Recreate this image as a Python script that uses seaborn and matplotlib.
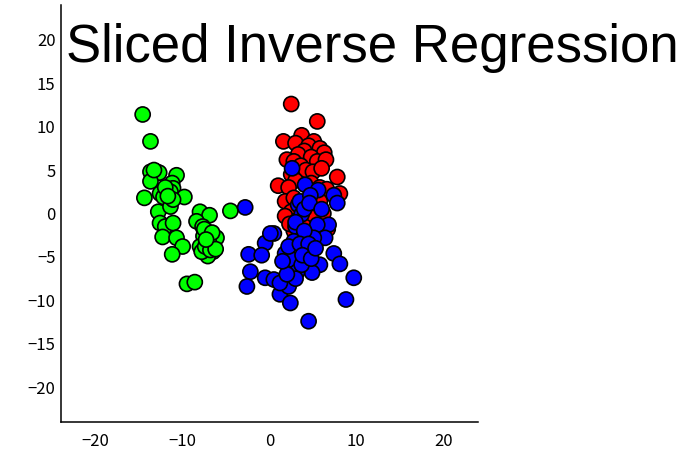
import numpy as np
import pandas as pd
import matplotlib
matplotlib.use("Agg")
import matplotlib.pyplot as plt
import seaborn as sns

# ---- data ----
green_x = [-14.6, -13.7, -13.7, -13.0, -12.7, -13.7, -10.7, -11.2, -11.1, -14.4,
           -12.6, -12.2, -11.4, -9.8, -12.8, -11.4, -11.1, -12.6, -12.0, -11.1,
           -12.3, -10.7, -10.0, -11.2, -9.5, -8.6, -8.0, -6.9, -8.4, -7.7,
           -7.2, -7.6, -6.1, -7.0, -8.0, -6.5, -7.1, -7.8, -4.5, -7.5,
           -6.6, -7.4, -6.8, -6.2, -7.3, -13.3, -12.0, -11.7]
green_y = [11.4, 8.3, 4.8, 4.8, 4.7, 3.7, 4.4, 3.5, 2.9, 1.8,
           2.3, 1.9, 2.5, 1.9, 0.2, 0.8, 1.6, -1.1, -1.5, -1.1,
           -2.7, -2.8, -3.8, -4.7, -8.1, -7.9, 0.2, -0.2, -0.9, -1.5,
           -2.1, -2.6, -2.8, -3.2, -3.8, -4.4, -4.9, -4.4, 0.3, -1.8,
           -2.2, -3.8, -4.2, -4.1, -3.0, 5.0, 3.0, 2.0]

red_x = [2.5, 5.5, 3.7, 1.6, 3.0, 5.1, 4.5, 5.8, 6.3, 4.0,
         3.3, 2.0, 2.8, 4.8, 5.5, 6.5, 3.6, 4.2, 5.0, 6.0,
         2.5, 3.0, 7.8, 1.0, 2.2, 4.8, 5.8, 6.6, 8.1, 1.8,
         2.8, 3.5, 5.8, 4.2, 2.5, 1.8, 6.2, 3.2, 5.0, 4.0,
         2.8, 5.5, 3.6, 6.7, 2.3]
red_y = [12.6, 10.6, 9.0, 8.3, 8.1, 8.3, 7.8, 7.5, 7.0, 7.2,
         6.8, 6.2, 6.0, 6.5, 6.0, 6.2, 5.5, 5.0, 4.8, 5.2,
         4.5, 3.8, 4.2, 3.2, 3.0, 3.5, 3.0, 2.8, 2.3, 1.4,
         1.8, 1.0, 1.4, 0.5, 0.2, -0.3, 0.0, -0.8, -0.5, -1.5,
         -2.0, -2.5, -3.0, -1.8, -1.2]

blue_x = [-2.8, 0.5, -0.5, -2.4, -0.9, -2.2, -2.6, -0.5, 0.5, 1.2,
          2.4, 4.5, 7.4, 8.1, 9.7, 8.8, 4.1, 5.6, 7.4, 7.8,
          3.3, 3.7, 6.8, 3.0, 5.5, 6.4, 5.1, 2.8, 1.8, 2.6,
          4.5, 5.8, 4.9, 3.2, 2.2, 1.2, 3.7, 4.1, 2.2, 2.6,
          3.5, 4.7, 0.1, 3.0, 4.0, 3.5, 4.5, 3.8, 4.8, 3.0,
          2.0, 1.5, 5.3, 4.0, 4.6, 6.0]
blue_y = [0.7, -2.3, -3.4, -4.7, -4.8, -6.7, -8.4, -7.4, -7.6, -9.3,
          -10.3, -12.4, -4.6, -5.8, -7.4, -9.9, 3.3, 2.7, 2.1, 1.2,
          1.0, -0.1, -1.3, -1.5, -1.3, -2.8, -2.8, -3.2, -4.6, -5.3,
          -4.7, -5.9, -6.8, -6.7, -8.4, -8.0, -5.9, -4.2, -3.8, 5.2,
          1.4, 2.1, -2.3, -1.0, -2.0, -3.5, -3.5, -4.8, -5.2, -7.5,
          -7.0, -5.5, -4.0, 0.5, 1.2, 0.5]

groups = ["green", "red", "blue"]
colors = {"green": "#00ff00", "red": "#ff0000", "blue": "#0000ff"}

df = pd.concat([
    pd.DataFrame({"x": green_x, "y": green_y, "g": "green"}),
    pd.DataFrame({"x": red_x, "y": red_y, "g": "red"}),
    pd.DataFrame({"x": blue_x, "y": blue_y, "g": "blue"}),
], ignore_index=True)

sns.set_style("white")
plt.rcParams["font.family"] = ["Noto Sans CJK JP", "DejaVu Sans"]

W, H = 693, 451
fig = plt.figure(figsize=(W / 100, H / 100), dpi=100)
ax = fig.add_axes([61 / W, 1 - 422 / H, (478 - 61) / W, (422 - 5) / H])

sns.scatterplot(data=df, x="x", y="y", hue="g", palette=colors, hue_order=groups,
                s=118, edgecolor="black", linewidth=1.2, alpha=1.0,
                legend=False, ax=ax)

ax.set_xlim(-24, 24)
ax.set_ylim(-24, 24)
ax.set_xticks([-20, -10, 0, 10, 20])
ax.set_yticks(list(range(-20, 21, 5)))
ax.set_xlabel("")
ax.set_ylabel("")
for side in ["top", "right"]:
    ax.spines[side].set_visible(False)
for side in ["left", "bottom"]:
    ax.spines[side].set_color("black")
    ax.spines[side].set_linewidth(1.1)
ax.tick_params(direction="in", length=4.5, width=1.0, colors="black",
               labelsize=12, pad=4)
ax.tick_params(axis="x", pad=8)
ax.grid(False)

fig.text(66 / W, 1 - 62 / H, "Sliced Inverse Regression", fontsize=38.0,
         family="Liberation Sans", ha="left", va="baseline", color="black")

fig.savefig("out.png", dpi=100)
